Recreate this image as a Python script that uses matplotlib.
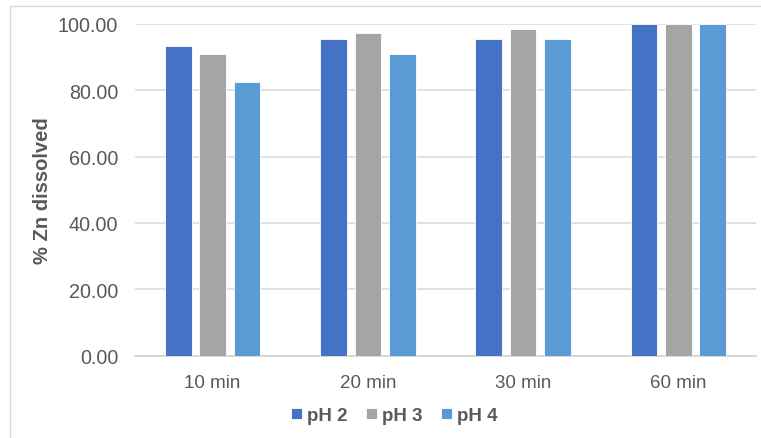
import matplotlib.pyplot as plt
import numpy as np
from matplotlib.patches import Rectangle

plt.rcParams['font.family'] = ['Liberation Sans', 'DejaVu Sans']

times = ['10 min', '20 min', '30 min', '60 min']
series = ['pH 2', 'pH 3', 'pH 4']
ph2 = [93.4, 95.5, 95.5, 100.0]
ph3 = [91.0, 97.2, 98.4, 100.0]
ph4 = [82.5, 91.0, 95.5, 100.0]
colors = ['#4472C4', '#A5A5A5', '#5B9BD5']

text_grey = '#595959'

fig = plt.figure(figsize=(7.61, 4.39), dpi=100)
ax = fig.add_axes([135 / 761, 82.5 / 439, 621 / 761, 331.5 / 439])

# chart area border (only left/top visible in the original)
fig.patches.append(Rectangle((9.5 / 761, -0.1), 1.2, 1 - 7 / 439 + 0.1,
                             transform=fig.transFigure, fill=False,
                             edgecolor='#D9D9D9', linewidth=1))

x = np.arange(len(times))
width = 0.172
step = 0.221
for i, (vals, name) in enumerate(zip([ph2, ph3, ph4], series)):
    ax.bar(x + (i - 1) * step, vals, width, color=colors[i], label=name,
           edgecolor='white', linewidth=0.6, zorder=3)

ax.set_xlim(-0.5, len(times) - 0.5)
ax.set_ylim(0, 100)
ax.set_yticks(np.arange(0, 101, 20))
ax.set_yticklabels(['%.2f' % v for v in np.arange(0, 101, 20)])
ax.set_xticks(x)
ax.set_xticklabels(times)
ax.tick_params(axis='both', length=0, labelcolor=text_grey)
ax.tick_params(axis='y', pad=12, labelsize=14.2)
ax.tick_params(axis='x', pad=13, labelsize=13.5)
ax.grid(axis='y', color='#D9D9D9', linewidth=1.1, zorder=0)
for s in ['top', 'right', 'left']:
    ax.spines[s].set_visible(False)
ax.spines['bottom'].set_color('#D0D0D0')
ax.spines['bottom'].set_linewidth(1.1)

ax.set_ylabel('% Zn dissolved', fontsize=14.5, fontweight='bold', color=text_grey, labelpad=4)

fig.legend(loc='center', bbox_to_anchor=(0.518, 0.051), ncol=3, frameon=False,
           prop={'size': 13.5, 'weight': 'bold'}, labelcolor=text_grey,
           handlelength=0.6, handleheight=0.6, handletextpad=0.25, columnspacing=1.0)

fig.savefig('out.png', dpi=100)
